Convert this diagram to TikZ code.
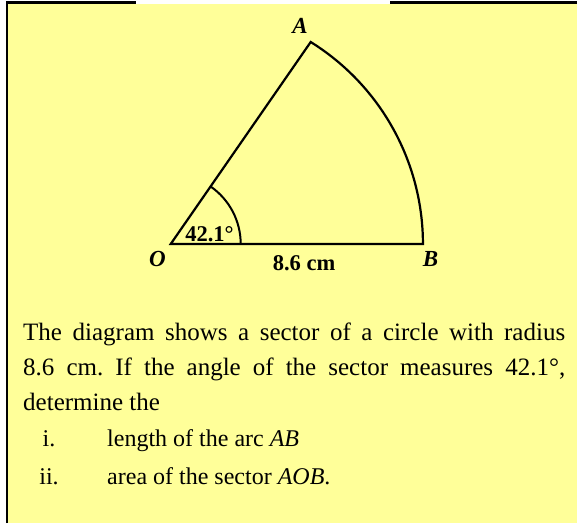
\documentclass[tikz,border=0pt]{standalone}
\usepackage{fontspec}
\setmainfont{Liberation Serif}
\usepackage{tikz}
\usetikzlibrary{positioning, calc}
\definecolor{cardyellow}{RGB}{255,255,153}
\frenchspacing
\tikzset{
  sectline/.style = {draw=black, line width=2.2pt, line join=miter},
  anglearc/.style = {draw=black, line width=2pt},
  cardedge/.style = {draw=black, line width=2.5pt},
  vlab/.style     = {font=\fontsize{23}{23}\selectfont\bfseries\itshape,
                     inner sep=0pt, anchor=base},
  dimlab/.style   = {font=\fontsize{22.5}{22.5}\selectfont\bfseries,
                     inner sep=0pt, anchor=base},
  qline/.style    = {font=\fontsize{25}{25}\selectfont, inner sep=0pt,
                     anchor=base west},
  qitem/.style    = {qline, font=\fontsize{24}{24}\selectfont},
  qnum/.style     = {qitem, anchor=base},
}

\begin{document}
\begin{tikzpicture}[x=1pt, y=1pt]
  \useasboundingbox (0,0) rectangle (577,523);
  \fill[white] (0,0) rectangle (577,523);
  \fill[cardyellow] (8,0) rectangle (577,519);
  \draw[cardedge] (7,0) -- (7,520.5) -- (136,520.5);
  \draw[cardedge] (390,520.5) -- (577,520.5);

  \coordinate (O) at (170.7,279);
  \coordinate (B) at (423,279);
  \coordinate (A) at (310.7,481);
  \draw[sectline] (A) arc[start angle=58.1, end angle=0, radius=238pt]
    -- (O) -- cycle;
  \draw[anglearc] ([xshift=70pt]O) arc[start angle=0, end angle=55.3, radius=70pt];

  \node[vlab] (labA) at (300,489) {A};
  \node[vlab] (labO) at (157.5,256.3) {O};
  \node[vlab] (labB) at (430.5,256.3) {B};
  \node[dimlab] (rad) at (304,253) {8.6 cm};
  \node[dimlab] (ang) at (209.5,282) {42.1°};

  \node[qline] (q1) at (23,183)
    {\makebox[542pt][s]{The diagram shows a sector of a circle with radius}};
  \node[qline] (q2) at (23,148)
    {\makebox[542pt][s]{8.6 cm. If the angle of the sector measures 42.1°,}};
  \node[qline] (q3) at (23,113) {determine the};
  \node[qnum] (n1) at (49,76.5) {i.};
  \node[qitem] (t1) at (107,76.5) {length of the arc \textit{AB}};
  \node[qnum] (n2) at (49,39) {ii.};
  \node[qitem] (t2) at (107,39) {area of the sector \textit{AOB}.};
\end{tikzpicture}
\end{document}
